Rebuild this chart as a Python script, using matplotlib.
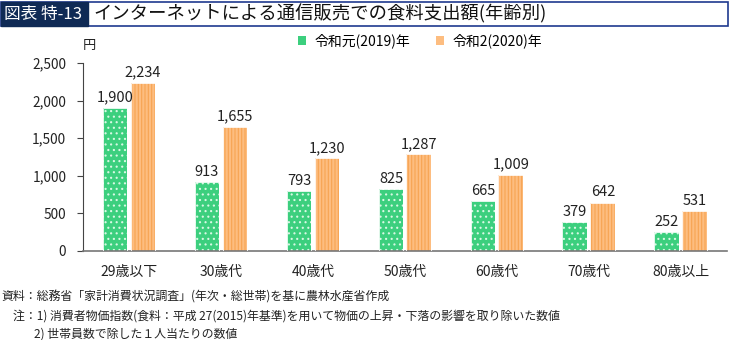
import matplotlib
matplotlib.use("Agg")
import matplotlib.pyplot as plt
from matplotlib.patches import Rectangle
import numpy as np

plt.rcParams['font.family'] = ['Noto Sans CJK JP', 'DejaVu Sans']

categories = ["29歳以下", "30歳代", "40歳代", "50歳代", "60歳代", "70歳代", "80歳以上"]
values_2019 = [1900, 913, 793, 825, 665, 379, 252]
values_2020 = [2234, 1655, 1230, 1287, 1009, 642, 531]
series_names = ["令和元(2019)年", "令和2(2020)年"]
yticks = [0, 500, 1000, 1500, 2000, 2500]

title_tag = "図表 特-13"
title_text = "インターネットによる通信販売での食料支出額(年齢別)"
notes = [
    "資料：総務省「家計消費状況調査」(年次・総世帯)を基に農林水産省作成",
    "注：1) 消費者物価指数(食料：平成 27(2015)年基準)を用いて物価の上昇・下落の影響を取り除いた数値",
    "2) 世帯員数で除した１人当たりの数値",
]

green = "#3ccf7e"
orange = "#fdbd80"
orange_stripe = "#f7a452"

plt.rcParams['hatch.linewidth'] = 0.8

fig = plt.figure(figsize=(7.3, 3.4), dpi=100)
ax = fig.add_axes([0.1137, 0.2618, 0.882, 0.553])

x = np.arange(len(categories))
w = 0.27
off = 0.152
b1 = ax.bar(x - off, values_2019, w, color=green, edgecolor="#d8f8e4", linewidth=0,
            hatch="...", label=series_names[0])
b2 = ax.bar(x + off, values_2020, w, color=orange, edgecolor=orange_stripe, linewidth=0,
            hatch="|||||", label=series_names[1])
for r in list(b1) + list(b2):
    ax.add_patch(Rectangle((r.get_x(), 0), r.get_width(), r.get_height(),
                           fill=False, edgecolor="white", linewidth=0.6, zorder=3))

for xi, v in zip(x - off, values_2019):
    ax.text(xi, v + 45, f"{v:,}", ha="center", va="bottom", fontsize=10.5, color="#222222")
for xi, v in zip(x + off, values_2020):
    ax.text(xi, v + 45, f"{v:,}", ha="center", va="bottom", fontsize=10.5, color="#222222")

ax.set_xlim(-0.5, len(categories) - 0.5)
ax.set_ylim(0, 2500)
ax.set_yticks(yticks)
ax.set_yticklabels([f"{t:,}" for t in yticks], fontsize=9.8, color="#222222")
ax.set_xticks(x)
ax.set_xticklabels(categories, fontsize=10, color="#222222")
ax.tick_params(axis="x", length=0, pad=10)
ax.tick_params(axis="y", length=4, width=0.8, color="#444444", pad=8)
for s in ["top", "right"]:
    ax.spines[s].set_visible(False)
ax.spines["left"].set_color("#444444")
ax.spines["left"].set_linewidth(0.8)
ax.spines["bottom"].set_color("#777777")
ax.spines["bottom"].set_linewidth(1.2)

fig.text(83 / 730, 1 - 45 / 340, "円", fontsize=9.5, ha="left", va="center", color="#222222")

leg = fig.legend(handles=[b1, b2], labels=series_names, loc="center",
                 bbox_to_anchor=(420 / 730, 1 - 41 / 340), ncol=2, frameon=False,
                 fontsize=10, handlelength=0.6, handleheight=0.6, columnspacing=1.8,
                 handletextpad=0.6)
for h in leg.legend_handles:
    h.set_hatch(None)

# title bar
fig.patches.append(Rectangle((1 / 730, 1 - 26 / 340), 727 / 730, 24 / 340, transform=fig.transFigure,
                             fill=False, edgecolor="#1f3a8f", linewidth=1.2))
fig.patches.append(Rectangle((1 / 730, 1 - 26 / 340), 87 / 730, 24 / 340, transform=fig.transFigure,
                             facecolor="#0f2a55", edgecolor="#0f2a55", linewidth=1))
fig.text(4 / 730, 1 - 14 / 340, title_tag, fontsize=12, color="white", ha="left", va="center")
fig.text(93 / 730, 1 - 14 / 340, title_text, fontsize=13.2, color="#111111", ha="left", va="center")

fig.text(1 / 730, 1 - 297 / 340, notes[0], fontsize=8.6, ha="left", va="center", color="#222222")
fig.text(13 / 730, 1 - 316 / 340, notes[1], fontsize=8.6, ha="left", va="center", color="#222222")
fig.text(34 / 730, 1 - 334 / 340, notes[2], fontsize=8.6, ha="left", va="center", color="#222222")

fig.savefig("out.png", dpi=100)
